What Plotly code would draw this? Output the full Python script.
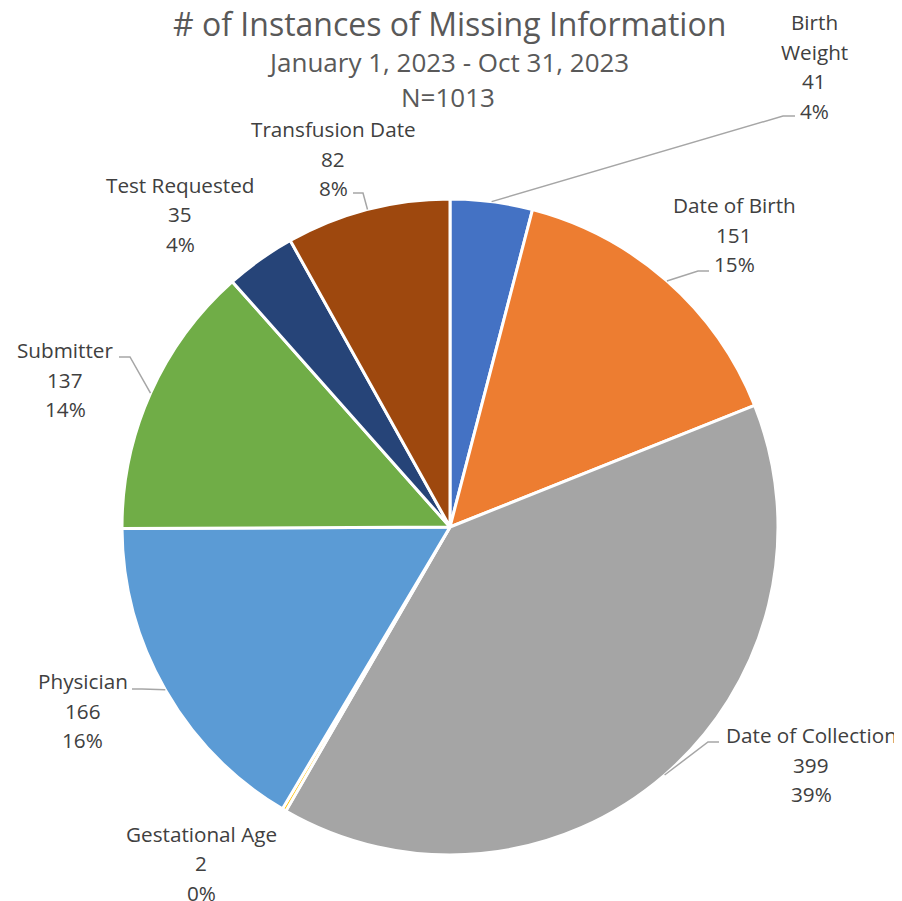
import math
import plotly.graph_objects as go

# ---------------- data ----------------
categories = ["Birth Weight", "Date of Birth", "Date of Collection", "Gestational Age",
              "Physician", "Submitter", "Test Requested", "Transfusion Date"]
label_lines = [["Birth", "Weight"], ["Date of Birth"], ["Date of Collection"], ["Gestational Age"],
               ["Physician"], ["Submitter"], ["Test Requested"], ["Transfusion Date"]]
values = [41, 151, 399, 2, 166, 137, 35, 82]
colors = ["#4472C4", "#ED7D31", "#A5A5A5", "#FFC000", "#5B9BD5", "#70AD47", "#264478", "#9E480E"]

title_text = "# of Instances of Missing Information"
subtitle_lines = ["January 1, 2023 - Oct 31, 2023", "N=1013"]

# ---------------- layout settings (screen pixels) ----------------
WIN_W, WIN_H = 902, 901
OFF = 8                      # page body margin
W, H = WIN_W - OFF, WIN_H - OFF
CX, CY, R = 450, 527, 328
# label block: (x center, y of first line)
label_pos = [(814, 22), (734, 205), (811, 735), (201, 833.5),
             (82.5, 681), (65, 350), (180, 184.5), (333, 129)]
# leader elbows / ends
leaders = [((783, 116), (795, 116)), ((698, 271), (709, 271)), ((708, 742), (719, 742)), None,
           ((142, 689), (132, 689)), ((130, 357), (119, 357)), None, ((363, 193), (353, 193))]
LINE_GAP = 29.5
FONT = "Open Sans"
LABEL_COLOR = "#404040"
TITLE_COLOR = "#595959"

# Excel-style percentages (sum to 100, largest remainder)
total = sum(values)
raw = [v * 100 / total for v in values]
floors = [math.floor(r) for r in raw]
rem = 100 - sum(floors)
order = sorted(range(len(raw)), key=lambda i: raw[i] - floors[i], reverse=True)
pcts = floors[:]
for i in order[:rem]:
    pcts[i] += 1

fig = go.Figure()
fig.add_trace(go.Pie(
    labels=categories, values=values, sort=False, direction="clockwise", rotation=0,
    marker=dict(colors=colors, line=dict(color="white", width=3)),
    textinfo="none", showlegend=False,
    domain=dict(x=[(CX - R - OFF) / W, (CX + R - OFF) / W],
                y=[1 - (CY + R - OFF) / H, 1 - (CY - R - OFF) / H]),
))

annotations = []
shapes = []
cum = 0
for i, v in enumerate(values):
    mid = (cum + v / 2) / total * 2 * math.pi
    cum += v
    lines = label_lines[i] + [str(v), f"{pcts[i]}%"]
    lx, ly = label_pos[i]
    for k, t in enumerate(lines):
        annotations.append(dict(x=lx, y=ly + k * LINE_GAP, xref="x", yref="y", text=t,
                                showarrow=False, xanchor="center", yanchor="middle",
                                font=dict(family=FONT, size=20.7, color=LABEL_COLOR)))
    if leaders[i] is not None:
        ex, ey = CX + R * math.sin(mid), CY - R * math.cos(mid)
        (bx, by), (fx, fy) = leaders[i]
        shapes.append(dict(type="path", xref="x", yref="y",
                           path=f"M {ex:.1f} {ey:.1f} L {bx} {by} L {fx} {fy}",
                           line=dict(color="#A6A6A6", width=1.5)))

annotations.append(dict(x=449, y=23, xref="x", yref="y", text=title_text, showarrow=False,
                        xanchor="center", yanchor="middle",
                        font=dict(family=FONT, size=32, color=TITLE_COLOR)))
for k, t in enumerate(subtitle_lines):
    annotations.append(dict(x=448, y=62 + k * 35, xref="x", yref="y", text=t, showarrow=False,
                            xanchor="center", yanchor="middle",
                            font=dict(family=FONT, size=26, color=TITLE_COLOR)))

fig.update_layout(
    width=W, height=H, margin=dict(l=0, r=0, t=0, b=0),
    paper_bgcolor="white", plot_bgcolor="rgba(0,0,0,0)",
    xaxis=dict(range=[OFF, WIN_W], visible=False, fixedrange=True),
    yaxis=dict(range=[WIN_H, OFF], visible=False, fixedrange=True),
    annotations=annotations, shapes=shapes,
)
fig.write_html("out.html")
